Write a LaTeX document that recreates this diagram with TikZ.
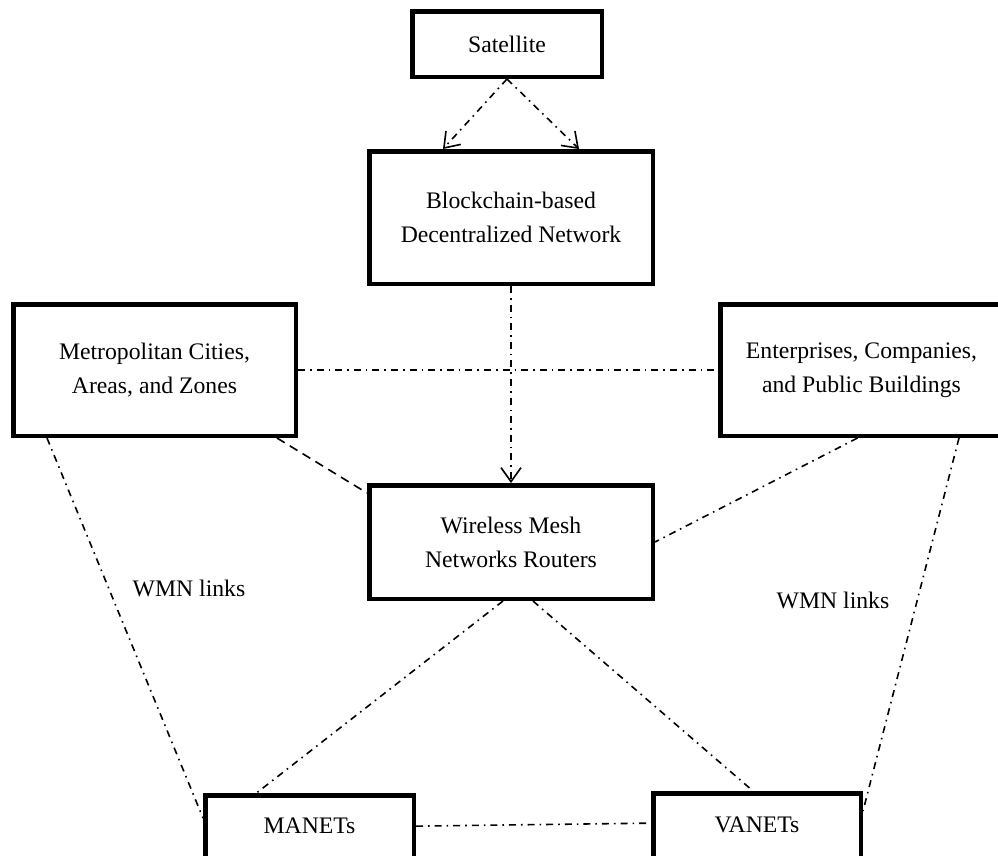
\documentclass[tikz,border=0pt]{standalone}
\usepackage{fontspec}
\setmainfont{Liberation Serif}
\usetikzlibrary{arrows.meta}
\begin{document}
\begin{tikzpicture}[x=1pt,y=-1pt,
  box/.style={draw,line width=4.5pt,fill=white,align=center,inner sep=0pt,
    font=\fontsize{23.7}{34}\selectfont},
  lbl/.style={font=\fontsize{23.7}{28}\selectfont},
  dashdot/.style={line width=1.6pt,dash pattern=on 7pt off 5pt on 1.6pt off 5pt},
  dashline/.style={line width=1.6pt,dash pattern=on 9pt off 6pt},
  tip/.style={-{Straight Barb[length=14pt,width=20pt,line width=1.6pt]}}]
\clip (0,0) rectangle (998,855);
\fill[white] (0,0) rectangle (998,855);

% boxes
\node[box,minimum width=189.5pt,minimum height=65.5pt] (sat) at (507,44) {Satellite};
\node[box,minimum width=283.5pt,minimum height=132.5pt] (bc) at (511,217.5) {Blockchain-based\\Decentralized Network};
\node[box,minimum width=282.5pt,minimum height=131.5pt] (metro) at (154.5,370) {Metropolitan Cities,\\Areas, and Zones};
\node[box,minimum width=282.5pt,minimum height=131.5pt] (ent) at (861.5,370) {Enterprises, Companies,\\and Public Buildings};
\node[box,minimum width=283.5pt,minimum height=113.5pt] (wmn) at (511,542) {Wireless Mesh\\Networks Routers};
% the two lowest boxes run past the bottom edge
\node[box,minimum width=208.5pt,text height=37.75pt,text depth=42pt,anchor=north] (manet) at (309.5,793) {MANETs};
\node[box,minimum width=207.5pt,text height=38.75pt,text depth=43pt,anchor=north] (vanet) at (757,791) {VANETs};

% link labels
\node[lbl] (wl) at (189,588) {WMN links};
\node[lbl] (wr) at (833,600) {WMN links};

% connectors
\draw[dashdot,tip] (sat.south) -- ([xshift=-68pt]bc.north);
\draw[dashdot,tip] (sat.south) -- ([xshift=68pt]bc.north);
\draw[dashdot] (metro.east) -- (ent.west);
\draw[dashdot,tip] (bc.south) -- (wmn.north);
\draw[dashline] ([xshift=-21pt]metro.south east) -- ([yshift=-10pt]wmn.north west);
\draw[dashdot] ([xshift=-4pt]ent.south) -- (wmn.east);
\draw[dashdot] ([xshift=36pt]metro.south west) -- ([yshift=-25pt]manet.north west);
\draw[dashdot] ([xshift=-46pt]ent.south east) -- ([yshift=-20pt]vanet.north east);
\draw[dashdot] ([xshift=-8pt]wmn.south) -- ([xshift=-53pt]manet.north);
\draw[dashdot] ([xshift=22pt]wmn.south) -- ([xshift=-4pt]vanet.north);
\draw[dashdot] ([yshift=9pt]manet.east) -- ([yshift=11pt]vanet.west);
\end{tikzpicture}
\end{document}
